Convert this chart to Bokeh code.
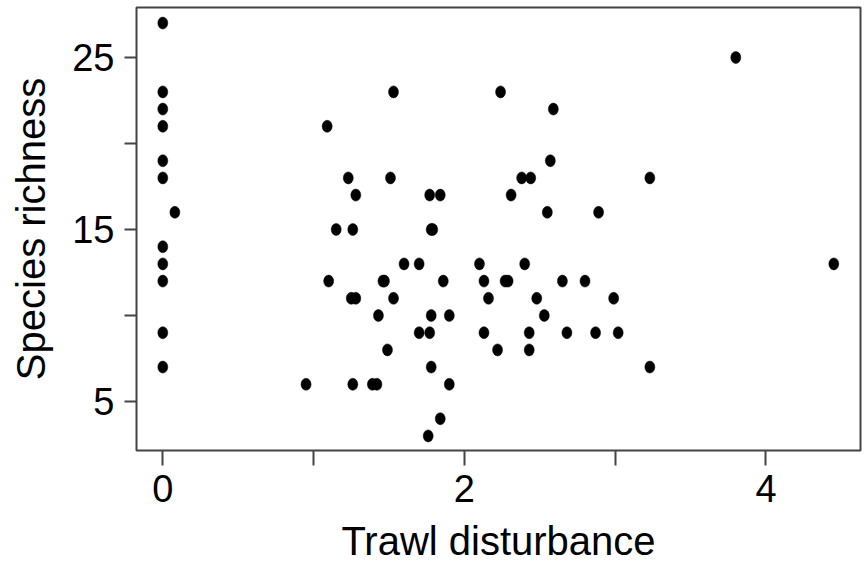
from bokeh.plotting import figure
from bokeh.models import Range1d, FixedTicker
from bokeh.embed import file_html
from bokeh.resources import INLINE

# Data
trawl = [0, 0, 0, 0, 0, 0, 0.08, 0, 0, 0, 0, 0,
         1.53, 1.09, 1.23, 1.51, 1.28, 1.77, 1.84, 1.15, 1.26, 1.78, 1.79,
         1.10, 1.46, 1.47, 1.86, 1.60, 1.70, 2.10, 2.13, 1.25, 1.28, 1.53,
         1.43, 1.78, 1.90, 1.70, 1.77, 2.13, 1.49, 1.78, 0.95, 1.26, 1.39,
         1.42, 1.90, 1.84, 1.76, 2.16,
         3.80, 2.24, 2.59, 2.57, 2.38, 2.44, 3.23, 2.31, 2.55, 2.89, 2.40,
         2.27, 2.29, 2.65, 2.80, 4.45, 2.48, 2.99, 2.53, 2.43, 2.68, 2.87,
         3.02, 2.22, 2.43, 3.23]
richness = [27, 23, 22, 21, 19, 18, 16, 14, 13, 12, 9, 7,
            23, 21, 18, 18, 17, 17, 17, 15, 15, 15, 15,
            12, 12, 12, 12, 13, 13, 13, 12, 11, 11, 11,
            10, 10, 10, 9, 9, 9, 8, 7, 6, 6, 6,
            6, 6, 4, 3, 11,
            25, 23, 22, 19, 18, 18, 18, 17, 16, 16, 13,
            12, 12, 12, 12, 13, 11, 11, 10, 9, 9, 9,
            9, 8, 8, 7]

x_ticks = [0, 1, 2, 3, 4]
x_labels = {1: "", 3: ""}
y_ticks = [5, 10, 15, 20, 25]
y_labels = {10: "", 20: ""}

FONT = "Liberation Sans"

p = figure(width=862, height=565, output_backend="svg", toolbar_location=None,
           x_range=Range1d(-0.1744, 4.627), y_range=Range1d(2.151, 27.907),
           min_border_left=136, min_border_right=2, min_border_top=7,
           min_border_bottom=115)

p.ellipse(x=trawl, y=richness, width=10, height=12,
          width_units="screen", height_units="screen",
          fill_color="black", line_color="black", line_width=0.5)

p.grid.visible = False
p.outline_line_color = "#444444"
p.outline_line_width = 2
p.background_fill_color = "white"
p.border_fill_color = "white"

xa = p.xaxis[0]
xa.ticker = FixedTicker(ticks=x_ticks)
xa.major_label_overrides = x_labels
xa.axis_label = "Trawl disturbance"

ya = p.yaxis[0]
ya.ticker = FixedTicker(ticks=y_ticks)
ya.major_label_overrides = y_labels
ya.axis_label = "Species richness"

for ax in (xa, ya):
    ax.axis_line_color = None
    ax.minor_tick_line_color = None
    ax.major_tick_in = 0
    ax.major_tick_line_color = "#444444"
    ax.major_tick_line_width = 2
    ax.major_label_text_font = FONT
    ax.major_label_text_font_size = "38px"
    ax.major_label_text_color = "black"
    ax.axis_label_text_font = FONT
    ax.axis_label_text_font_size = "40px"
    ax.axis_label_text_font_style = "normal"
    ax.axis_label_text_color = "black"

xa.major_tick_out = 15
xa.major_label_standoff = 9
xa.axis_label_standoff = 14
ya.major_tick_out = 12
ya.major_label_standoff = 10
ya.axis_label_standoff = 16

open("out.html", "w").write(file_html(p, INLINE))
